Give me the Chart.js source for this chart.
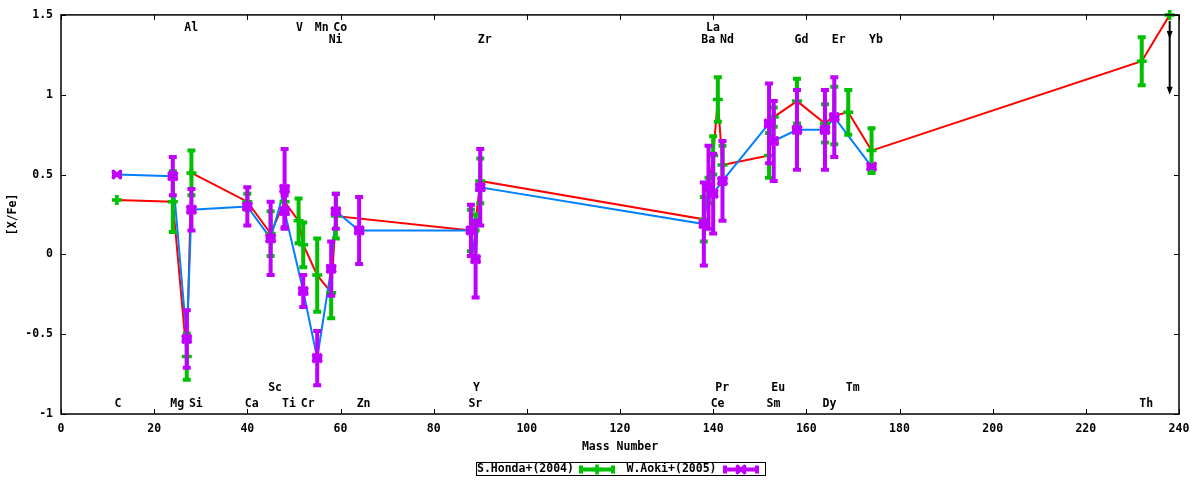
<!DOCTYPE html>
<html lang="en">
<head>
<meta charset="UTF-8">
<title>[X/Fe] vs Mass Number</title>
<script src="https://cdn.jsdelivr.net/npm/chart.js@4.4.0/dist/chart.umd.min.js"></script>
<style>
    html, body { margin: 0; padding: 0; background: #fff; }
    #wrap { width: 1200px; height: 480px; }
</style>
</head>
<body>
<div id="wrap"><canvas id="abund"></canvas></div>
<script>
// S.Honda+(2004)
const hondaMass = [12, 24, 27, 28, 40, 45, 48, 51, 52, 55, 58, 59, 88, 89, 90, 138, 139, 140, 141, 142, 152, 153, 158, 164, 166, 169, 174, 232, 238];
const hondaVal  = [0.34, 0.33, -0.64, 0.51, 0.33, 0.13, 0.33, 0.21, 0.06, -0.13, -0.24, 0.24, 0.15, 0.20, 0.46, 0.22, 0.40, 0.62, 0.97, 0.56, 0.62, 0.86, 0.96, 0.82, 0.87, 0.89, 0.65, 1.21, 1.50];
const hondaErr  = [0, 0.19, 0.145, 0.14, 0.05, 0.14, 0.06, 0.14, 0.14, 0.23, 0.16, 0.14, 0.13, 0.05, 0.14, 0.14, 0.08, 0.12, 0.14, 0.12, 0.14, 0.06, 0.14, 0.12, 0.18, 0.14, 0.14, 0.15, 0];

// W.Aoki+(2005)
const aokiMass = [12, 24, 27, 28, 40, 45, 48, 48, 52, 55, 58, 59, 64, 88, 89, 90, 138, 139, 140, 142, 152, 153, 158, 164, 166, 174];
const aokiVal  = [0.50, 0.49, -0.53, 0.28, 0.30, 0.10, 0.41, 0.27, -0.23, -0.65, -0.09, 0.27, 0.15, 0.15, -0.03, 0.42, 0.19, 0.42, 0.38, 0.46, 0.82, 0.71, 0.78, 0.78, 0.86, 0.55];
const aokiErr  = [0, 0.12, 0.18, 0.13, 0.12, 0.23, 0.25, 0.10, 0.10, 0.17, 0.17, 0.11, 0.21, 0.16, 0.24, 0.24, 0.26, 0.26, 0.25, 0.25, 0.25, 0.25, 0.25, 0.25, 0.25, 0];

// U upper limit arrow (from, to)
const uLimitMass = 238;
const uLimitFrom = 1.5;
const uLimitTo = 1.0;

// element labels
const elemName = ['Al', 'V', 'Mn', 'Co', 'La',
                  'Ni', 'Zr', 'Ba', 'Nd', 'Gd', 'Er', 'Yb',
                  'Sc', 'Y', 'Pr', 'Eu', 'Tm',
                  'C', 'Mg', 'Si', 'Ca', 'Ti', 'Cr', 'Zn', 'Sr', 'Ce', 'Sm', 'Dy', 'Th'];
const elemMass = [27, 51, 55, 59, 139,
                  58, 90, 138, 142, 158, 166, 174,
                  45, 89, 141, 153, 169,
                  12, 24, 28, 40, 48, 52, 64, 88, 140, 152, 164, 232];
const elemY    = [1.42, 1.42, 1.42, 1.42, 1.42,
                  1.345, 1.345, 1.345, 1.345, 1.345, 1.345, 1.345,
                  -0.835, -0.835, -0.835, -0.835, -0.835,
                  -0.935, -0.935, -0.935, -0.935, -0.935, -0.935, -0.935, -0.935, -0.935, -0.935, -0.935, -0.935];

const xTicks = [0, 240, 20];     // min, max, step
const yTicks = [-1, 1.5, 0.5];

const RED = '#ff0000', GREEN = '#00c000', BLUE = '#0080ff', PURPLE = '#c000ff';
const FAMILY = '"DejaVu Sans Mono", "Liberation Mono", monospace';
const FONT = 'bold 11.5px ' + FAMILY;

function pairs(xs, ys) {
    return xs.map((m, i) => ({ x: m, y: ys[i] }));
}

function drawMarker(ctx, px, py, style, color) {
    ctx.save();
    ctx.strokeStyle = color;
    ctx.lineCap = 'butt';
    if (style === 'plus') {
        ctx.lineWidth = 3.5;
        ctx.beginPath();
        ctx.moveTo(px - 5, py); ctx.lineTo(px + 5, py);
        ctx.moveTo(px, py - 5); ctx.lineTo(px, py + 5);
        ctx.stroke();
    } else {
        ctx.lineWidth = 3.5;
        ctx.beginPath();
        ctx.moveTo(px - 4.5, py - 4); ctx.lineTo(px + 4.5, py + 4);
        ctx.moveTo(px - 4.5, py + 4); ctx.lineTo(px + 4.5, py - 4);
        ctx.stroke();
        ctx.fillStyle = color;
        ctx.fillRect(px - 5, py - 4.5, 2.5, 9);
        ctx.fillRect(px + 2.5, py - 4.5, 2.5, 9);
    }
    ctx.restore();
}

function drawErrorBars(ctx, xs, ys, mass, val, err, color, style) {
    ctx.save();
    ctx.strokeStyle = color;
    ctx.lineWidth = 4;
    ctx.lineCap = 'butt';
    mass.forEach((m, i) => {
        const px = xs.getPixelForValue(m);
        if (err[i] > 0) {
            const top = ys.getPixelForValue(val[i] + err[i]);
            const bot = ys.getPixelForValue(val[i] - err[i]);
            ctx.beginPath();
            ctx.moveTo(px, top); ctx.lineTo(px, bot);
            ctx.moveTo(px - 4, top); ctx.lineTo(px + 4, top);
            ctx.moveTo(px - 4, bot); ctx.lineTo(px + 4, bot);
            ctx.stroke();
        }
        drawMarker(ctx, px, ys.getPixelForValue(val[i]), style, color);
    });
    ctx.restore();
}

function arrowHead(ctx, px, py) {
    ctx.beginPath();
    ctx.moveTo(px - 3, py - 8);
    ctx.lineTo(px + 3, py - 8);
    ctx.lineTo(px, py);
    ctx.closePath();
    ctx.fill();
}

const decorPlugin = {
    id: 'decor',
    afterDatasetsDraw(chart) {
        const { ctx, scales: { x, y } } = chart;
        drawErrorBars(ctx, x, y, hondaMass, hondaVal, hondaErr, GREEN, 'plus');
        drawErrorBars(ctx, x, y, aokiMass, aokiVal, aokiErr, PURPLE, 'cross');

        // upper limit arrow for U
        const ax = x.getPixelForValue(uLimitMass);
        const a0 = y.getPixelForValue(uLimitFrom) + 6;
        const a1 = y.getPixelForValue(uLimitTo);
        ctx.save();
        ctx.strokeStyle = '#000';
        ctx.fillStyle = '#000';
        ctx.lineWidth = 2;
        ctx.beginPath();
        ctx.moveTo(ax, a0); ctx.lineTo(ax, a1 - 4);
        ctx.stroke();
        arrowHead(ctx, ax, a0 + 18);
        arrowHead(ctx, ax, a1);
        ctx.restore();
    },
    afterDraw(chart) {
        const { ctx, chartArea: a, scales: { x, y } } = chart;
        ctx.save();

        // frame + inward ticks on all four sides
        ctx.strokeStyle = '#000';
        ctx.lineWidth = 1.5;
        ctx.strokeRect(a.left, a.top, a.right - a.left, a.bottom - a.top);
        ctx.lineWidth = 1;
        ctx.beginPath();
        x.ticks.forEach(t => {
            const px = Math.round(x.getPixelForValue(t.value)) + 0.5;
            ctx.moveTo(px, a.bottom); ctx.lineTo(px, a.bottom - 5);
            ctx.moveTo(px, a.top); ctx.lineTo(px, a.top + 5);
        });
        y.ticks.forEach(t => {
            const py = Math.round(y.getPixelForValue(t.value)) + 0.5;
            ctx.moveTo(a.left, py); ctx.lineTo(a.left + 5, py);
            ctx.moveTo(a.right, py); ctx.lineTo(a.right - 5, py);
        });
        ctx.stroke();

        // element labels
        ctx.fillStyle = '#000';
        ctx.font = FONT;
        ctx.textAlign = 'left';
        ctx.textBaseline = 'middle';
        elemName.forEach((n, i) => {
            ctx.fillText(n, x.getPixelForValue(elemMass[i]) - 2.5, y.getPixelForValue(elemY[i]));
        });

        // axis titles
        const cx = (a.left + a.right) / 2;
        ctx.textAlign = 'center';
        ctx.fillText('Mass Number', cx, 447);
        ctx.save();
        ctx.translate(13, (a.top + a.bottom) / 2);
        ctx.rotate(-Math.PI / 2);
        ctx.fillText('[X/Fe]', 0, 0);
        ctx.restore();

        // legend box
        const lx = cx - 144, ly = 462.5;
        ctx.lineWidth = 1;
        ctx.strokeRect(Math.round(lx) + 0.5, ly, 289, 13);
        ctx.textAlign = 'left';
        const my = ly + 7;
        ctx.fillText('S.Honda+(2004)', lx + 1, my);
        ctx.fillText('W.Aoki+(2005)', lx + 150.5, my);
        [[lx + 103, GREEN, 'plus'], [lx + 247, PURPLE, 'cross']].forEach(([sx, col, st]) => {
            ctx.strokeStyle = col;
            ctx.lineWidth = 4;
            ctx.beginPath();
            ctx.moveTo(sx, my); ctx.lineTo(sx + 36, my);
            ctx.moveTo(sx + 2, my - 4); ctx.lineTo(sx + 2, my + 4);
            ctx.moveTo(sx + 34, my - 4); ctx.lineTo(sx + 34, my + 4);
            ctx.stroke();
            drawMarker(ctx, sx + 18, my, st, col);
        });
        ctx.restore();
    }
};

new Chart(document.getElementById('abund'), {
    type: 'line',
    data: {
        datasets: [
            {
                label: 'S.Honda+(2004)',
                data: pairs(hondaMass, hondaVal),
                borderColor: RED,
                borderWidth: 2,
                pointRadius: 0,
                tension: 0,
                order: 2
            },
            {
                label: 'W.Aoki+(2005)',
                data: pairs(aokiMass, aokiVal),
                borderColor: BLUE,
                borderWidth: 2,
                pointRadius: 0,
                tension: 0,
                order: 1
            }
        ]
    },
    options: {
        responsive: true,
        maintainAspectRatio: false,
        animation: false,
        layout: { padding: { left: 0, top: 13, right: 21, bottom: 0 } },
        plugins: {
            legend: { display: false },
            tooltip: { enabled: false }
        },
        scales: {
            x: {
                type: 'linear',
                min: xTicks[0],
                max: xTicks[1],
                ticks: {
                    stepSize: xTicks[2],
                    padding: 8,
                    color: '#000',
                    font: { family: FAMILY, size: 11.5, weight: 'bold' }
                },
                grid: { display: false, drawTicks: false },
                border: { display: false },
                afterFit: s => { s.height = 66; }
            },
            y: {
                min: yTicks[0],
                max: yTicks[1],
                ticks: {
                    stepSize: yTicks[2],
                    padding: 8,
                    color: '#000',
                    font: { family: FAMILY, size: 11.5, weight: 'bold' },
                    callback: v => String(v)
                },
                grid: { display: false, drawTicks: false },
                border: { display: false },
                afterFit: s => { s.width = 61; }
            }
        }
    },
    plugins: [decorPlugin]
});
</script>
</body>
</html>
